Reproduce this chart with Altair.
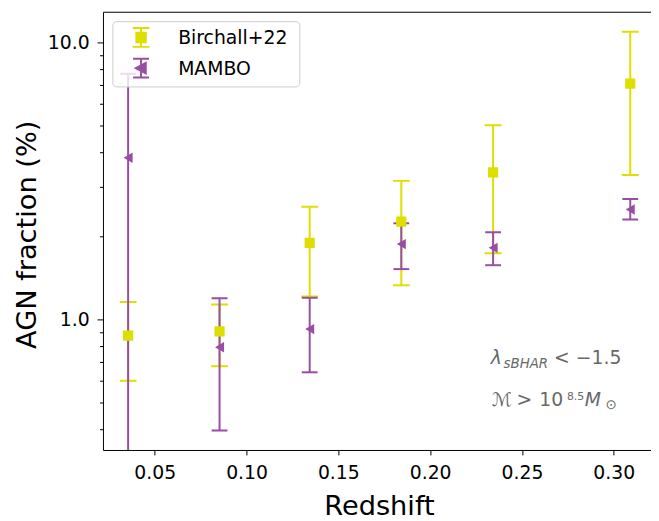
import altair as alt
import pandas as pd

# ---- data ----
redshift = [0.0355, 0.0853, 0.1344, 0.1843, 0.2343, 0.309]
birchall_frac = [0.872, 0.904, 1.888, 2.25, 3.39, 7.10]
birchall_lo = [0.599, 0.676, 1.208, 1.326, 1.73, 3.32]
birchall_hi = [1.153, 1.131, 2.55, 3.16, 5.02, 10.92]
mambo_frac = [3.83, 0.792, 0.921, 1.868, 1.81, 2.49]
mambo_lo = [0.2, 0.396, 0.643, 1.517, 1.567, 2.29]
mambo_hi = [7.7, 1.191, 1.195, 2.22, 2.06, 2.72]
series_names = ["Birchall+22", "MAMBO"]
series_colors = ["#dede00", "#984ea3"]
x_ticks = [0.05, 0.10, 0.15, 0.20, 0.25, 0.30]
y_major = [1, 10]
y_minor = [0.4, 0.5, 0.6, 0.7, 0.8, 0.9, 2, 3, 4, 5, 6, 7, 8, 9]

FONT = "DejaVu Sans"
W, H = 554, 443

df_b = pd.DataFrame({"z": redshift, "f": birchall_frac, "lo": birchall_lo,
                     "hi": birchall_hi, "series": series_names[0]})
df_m = pd.DataFrame({"z": redshift, "f": mambo_frac, "lo": mambo_lo,
                     "hi": mambo_hi, "series": series_names[1]})

xscale = alt.Scale(domain=[0.0218, 0.3203], nice=False, zero=False)
yscale = alt.Scale(type="log", domain=[0.337, 12.9], nice=False)
cscale = alt.Scale(domain=series_names, range=series_colors)

x_bottom = alt.Axis(values=x_ticks, format=".2f", tickSize=5, labelPadding=9,
                    labelFontSize=19, title="Redshift", titleFontSize=27.5,
                    titleFontWeight="normal", titleX=279, titleY=65,
                    titleBaseline="alphabetic", titleAlign="center",
                    domainColor="black", tickColor="black", grid=False)
x_top = alt.Axis(orient="top", labels=False, ticks=False, domain=True,
                 domainColor="black", title=None, grid=False)
y_major_axis = alt.Axis(orient="left", values=y_major, format=".1f", tickSize=6,
                        labelPadding=8, labelFontSize=19, title="AGN fraction (%)",
                        titleFontSize=27.5, titleFontWeight="normal", titleAngle=270,
                        titleX=-68, titleY=225, titleBaseline="alphabetic",
                        titleAlign="center", domainColor="black", tickColor="black",
                        grid=False)
y_minor_axis = alt.Axis(orient="left", values=y_minor, labels=False, tickSize=3.5,
                        domain=False, tickColor="black", title=None, grid=False)


def color_enc():
    return alt.Color("series:N", scale=cscale, legend=None)


def err_layers(df, cap, x_axis=None, y_axis=None):
    rule = alt.Chart(df).mark_rule(strokeWidth=2, clip=True, opacity=1).encode(
        x=alt.X("z:Q", scale=xscale, axis=x_axis),
        y=alt.Y("lo:Q", scale=yscale, axis=y_axis),
        y2="hi:Q",
        color=color_enc(),
    )
    caps = alt.Chart(df).transform_fold(["lo", "hi"], as_=["end", "val"]).mark_tick(
        orient="horizontal", thickness=2, size=cap, clip=True, opacity=1
    ).encode(
        x=alt.X("z:Q", scale=xscale, axis=None),
        y=alt.Y("val:Q", scale=yscale, axis=None),
        color=color_enc(),
    )
    return rule, caps


rule_b, caps_b = err_layers(df_b, 17, x_bottom, y_major_axis)
rule_m, caps_m = err_layers(df_m, 16)

points_m = alt.Chart(df_m).mark_point(shape="triangle-left", filled=True, size=110,
                                      opacity=1, clip=True).encode(
    x=alt.X("z:Q", scale=xscale, axis=None),
    y=alt.Y("f:Q", scale=yscale, axis=None),
    color=color_enc(),
)
points_b = alt.Chart(df_b).mark_point(shape="square", filled=True, size=106,
                                      opacity=1, clip=True).encode(
    x=alt.X("z:Q", scale=xscale, axis=x_top),
    y=alt.Y("f:Q", scale=yscale, axis=y_minor_axis),
    color=color_enc(),
)

# ---- legend box (guide drawn in pixel space) ----
path_b = ("M0,-1L0,1M-0.9,-1L0.9,-1M-0.9,1L0.9,1"
          "M-0.5,-0.5L0.5,-0.5L0.5,0.5L-0.5,0.5Z")
path_m = ("M0,-1L0,1M-0.85,-1L0.85,-1M-0.85,1L0.85,1"
          "M-0.55,0L0.5,-0.55L0.5,0.55Z")
one = alt.Data(values=[{}])
legend_box = alt.Chart(one).mark_rect(
    fill="white", fillOpacity=0.8, stroke="#cccccc", strokeWidth=1, cornerRadius=4
).encode(x=alt.value(10), x2=alt.value(199), y=alt.value(10), y2=alt.value(76))
legend_layers = [legend_box]
for i, (name, col, path) in enumerate(zip(series_names, series_colors, [path_b, path_m])):
    yy = 26 + 31 * i
    legend_layers.append(
        alt.Chart(one).mark_point(shape=path, size=361, filled=True, fill=col,
                                  stroke=col, strokeWidth=2, opacity=1)
        .encode(x=alt.value(38.5), y=alt.value(yy))
    )
    legend_layers.append(
        alt.Chart(one).mark_text(text=name, font=FONT, fontSize=19, color="black",
                                 align="left", baseline="middle")
        .encode(x=alt.value(76), y=alt.value(yy + 1))
    )

# ---- annotation (mathtext-like pieces) ----
GRAY = "#696969"
ann_pieces = [
    ("λ", 392, 356, 19, "italic"),
    ("sBHAR", 405, 360, 13.5, "italic"),
    ("< −1.5", 456, 356, 19, "normal"),
    ("ℳ", 393, 399, 19, "normal"),
    (">", 418, 399, 19, "normal"),
    ("10", 441, 399, 19, "normal"),
    ("8.5", 469, 392, 11, "normal"),
    ("M", 487, 399, 19, "italic"),
    ("⊙", 508, 402, 13.5, "normal"),
]
ann_layers = []
for txt, px, py, fs, style in ann_pieces:
    ann_layers.append(
        alt.Chart(one).mark_text(
            text=txt, font=FONT, fontSize=fs, fontStyle=style, color=GRAY,
            align="left", baseline="alphabetic"
        ).encode(x=alt.value(px), y=alt.value(py))
    )

chart = alt.layer(
    rule_b, caps_b, rule_m, caps_m, points_m, points_b, *legend_layers, *ann_layers
).resolve_axis(
    x="independent", y="independent"
).properties(
    width=W, height=H,
    padding={"left": 96, "top": 1, "right": 0, "bottom": 69},
    autosize=alt.AutoSizeParams(type="none"),
).configure_view(
    stroke=None
).configure_axis(
    labelFont=FONT, titleFont=FONT, labelColor="black", titleColor="black",
    tickWidth=1, domainWidth=1
)

chart.save("out.html", embed_options={"renderer": "svg", "actions": False})
